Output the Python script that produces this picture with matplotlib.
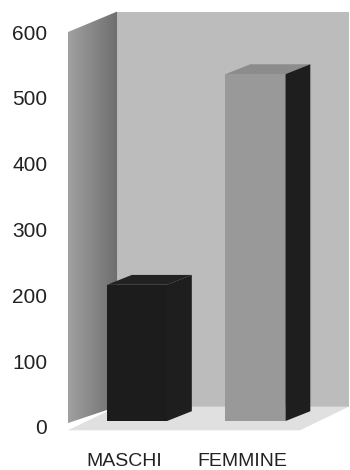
import numpy as np
import matplotlib
matplotlib.use("Agg")
import matplotlib.pyplot as plt
from matplotlib.patches import Polygon

categories = ["MASCHI", "FEMMINE"]
values = [207, 527]
y_ticks = [0, 100, 200, 300, 400, 500, 600]

W, H = 350, 470
BAR_W = 0.506
BAR_DX, BAR_DY = 0.21, 15
BASE = 9
WALL_DX, WALL_DY = 0.414, 31


def face(ax, pts, color, z=2):
    ax.add_patch(Polygon(pts, closed=True, facecolor=color, edgecolor="none", zorder=z, clip_on=False))


def gradient(ax, fig, pts, left, right, z=1):
    # horizontal grey ramp clipped to a polygon
    xs = [p[0] for p in pts]
    ys = [p[1] for p in pts]
    ramp = np.linspace(left, right, 64).reshape(1, -1)
    im = ax.imshow(ramp, cmap="gray", vmin=0, vmax=255, aspect="auto", zorder=z,
                   extent=[min(xs), max(xs), min(ys), max(ys)], interpolation="bilinear")
    clip = Polygon(pts, closed=True, transform=ax.transData, facecolor="none", edgecolor="none", clip_on=False)
    ax.add_patch(clip)
    im.set_clip_box(fig.bbox)
    im.set_clip_path(clip)


def bar3d(ax, x, v, front, side, top):
    l, r = x - BAR_W / 2, x + BAR_W / 2
    b, t = BASE, BASE + v
    face(ax, [(l, t), (r, t), (r + BAR_DX, t + BAR_DY), (l + BAR_DX, t + BAR_DY)], top, 4)
    face(ax, [(r, b), (r + BAR_DX, b + BAR_DY), (r + BAR_DX, t + BAR_DY), (r, t)], side, 4)
    face(ax, [(l, b), (r, b), (r, t), (l, t)], front, 4)


fig = plt.figure(figsize=(W / 100, H / 100), dpi=100)
ax = fig.add_axes([68 / W, 1 - 427 / H, 232 / W, 395 / H])
xmin, xmax = -0.582, 1.376
ymin, ymax = 0, 600

# walls and floor
back = [(xmin + WALL_DX, ymin + WALL_DY), (xmax + WALL_DX, ymin + WALL_DY),
        (xmax + WALL_DX, ymax + WALL_DY), (xmin + WALL_DX, ymax + WALL_DY)]
face(ax, back, "#bcbcbc", 1)
side = [(xmin, ymin + 6), (xmin + WALL_DX, ymin + WALL_DY), (xmin + WALL_DX, ymax + WALL_DY), (xmin, ymax)]
gradient(ax, fig, side, 160, 110, 2)
floor = [(xmin, ymin - 5), (xmax, ymin - 5), (xmax + WALL_DX, ymin + WALL_DY), (xmin + WALL_DX, ymin + WALL_DY)]
face(ax, floor, "#e0e0e0", 3)

bar3d(ax, 0, values[0], "#1c1c1c", "#1e1e1e", "#222222")
bar3d(ax, 1, values[1], "#999999", "#1e1e1e", "#8c8c8c")

ax.set_xlim(xmin, xmax)
ax.set_ylim(ymin, ymax)
for s in ax.spines.values():
    s.set_visible(False)
ax.patch.set_visible(False)
ax.set_yticks(y_ticks)
ax.set_xticks([-0.11, 0.89])
ax.set_xticklabels(categories)
ax.tick_params(axis="y", length=0, pad=15, labelsize=15, labelcolor="#222222")
ax.tick_params(axis="x", length=0, pad=18.5, labelsize=14, labelcolor="#222222")
for lab in ax.get_xticklabels() + ax.get_yticklabels():
    lab.set_fontfamily("Liberation Sans")

fig.savefig("out.png", dpi=100)
